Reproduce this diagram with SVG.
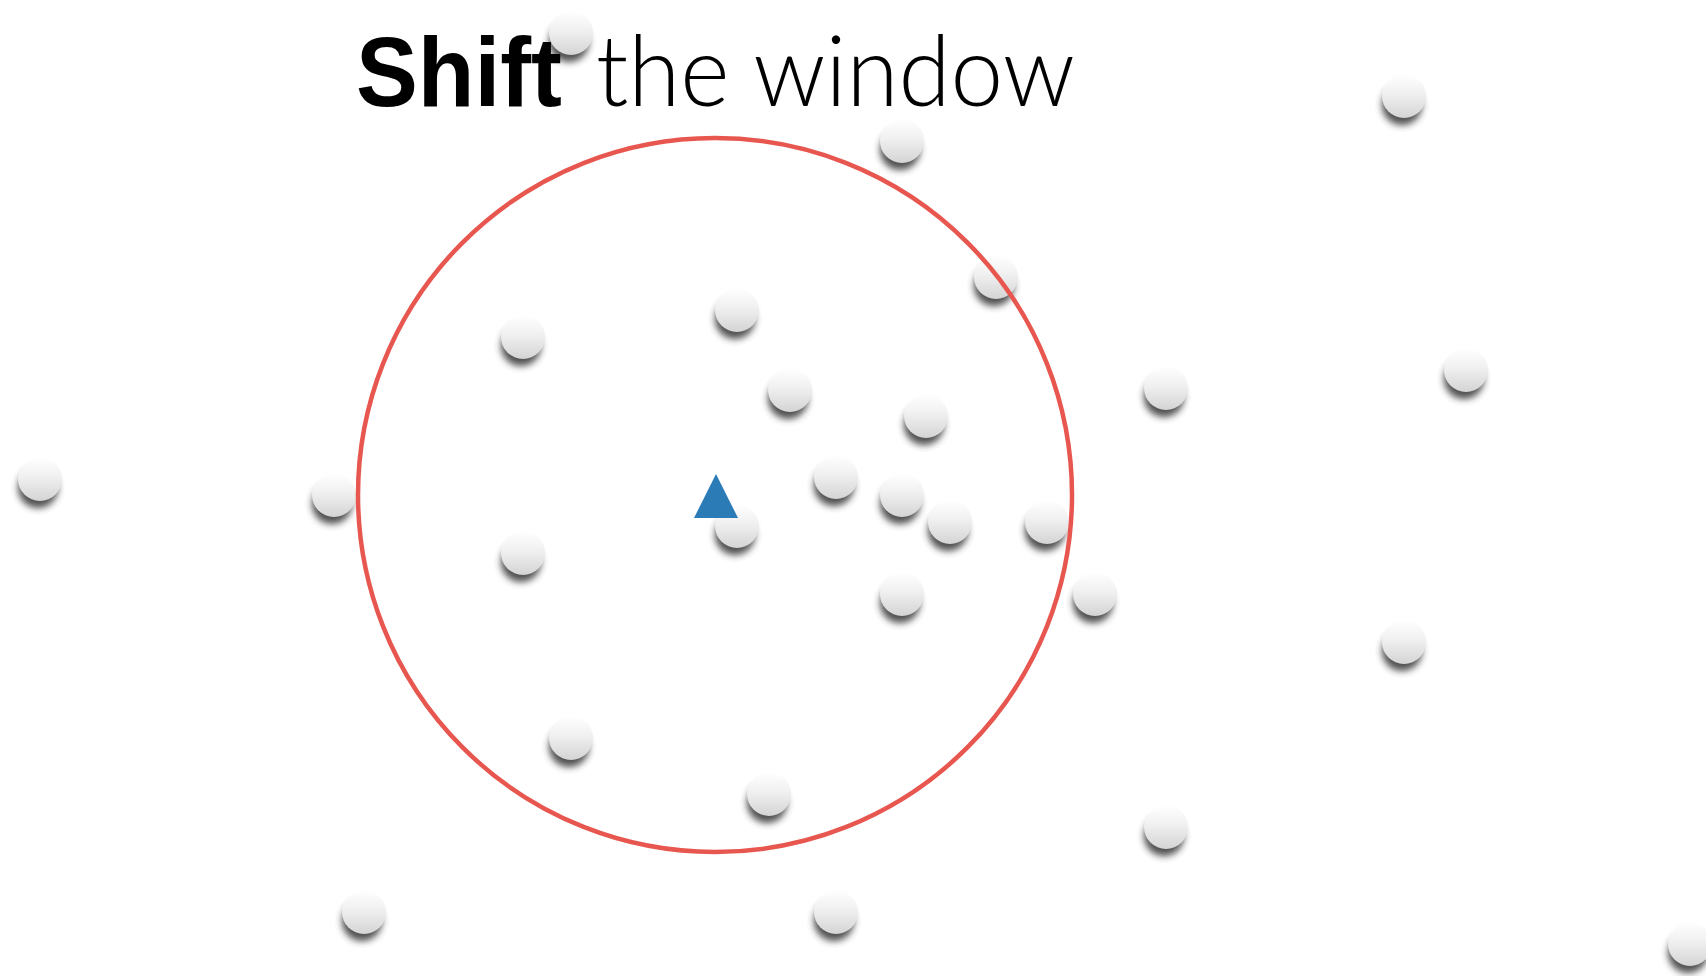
<svg xmlns="http://www.w3.org/2000/svg" xmlns:xlink="http://www.w3.org/1999/xlink" width="1706" height="976" viewBox="0 0 1706 976">
<style>
.title{font-family:"Liberation Sans","Helvetica Neue",Arial,sans-serif;font-size:98px;fill:#000}
.bold{font-weight:bold}
.light{font-family:"Lato","Liberation Sans",sans-serif;font-weight:300}
.window{fill:none;stroke:#e8574f;stroke-width:4.5}
</style>
<defs>
<linearGradient id="ballGrad" x1="0" y1="0" x2="0" y2="1">
<stop offset="0" stop-color="#ffffff"/>
<stop offset="0.45" stop-color="#f0f0f0"/>
<stop offset="1" stop-color="#d4d4d4"/>
</linearGradient>
<filter id="blur" x="-50%" y="-50%" width="200%" height="200%">
<feGaussianBlur stdDeviation="3.5"/>
</filter>
<g id="ball">
<circle cx="-2" cy="9" r="20" fill="#333" opacity="0.85" filter="url(#blur)"/>
<circle cx="0" cy="0" r="22" fill="url(#ballGrad)"/>
</g>
</defs>
<rect width="1706" height="976" fill="#ffffff"/>
<g id="points">
<use xlink:href="#ball" x="571" y="33"/>
<use xlink:href="#ball" x="1404" y="96"/>
<use xlink:href="#ball" x="902" y="141"/>
<use xlink:href="#ball" x="996" y="277"/>
<use xlink:href="#ball" x="737" y="310"/>
<use xlink:href="#ball" x="523" y="337"/>
<use xlink:href="#ball" x="790" y="390"/>
<use xlink:href="#ball" x="1166" y="388"/>
<use xlink:href="#ball" x="1466" y="370"/>
<use xlink:href="#ball" x="926" y="416"/>
<use xlink:href="#ball" x="40" y="479"/>
<use xlink:href="#ball" x="334" y="495"/>
<use xlink:href="#ball" x="836" y="477"/>
<use xlink:href="#ball" x="902" y="495"/>
<use xlink:href="#ball" x="950" y="522"/>
<use xlink:href="#ball" x="1047" y="522"/>
<use xlink:href="#ball" x="737" y="526"/>
<use xlink:href="#ball" x="523" y="553"/>
<use xlink:href="#ball" x="902" y="594"/>
<use xlink:href="#ball" x="1095" y="594"/>
<use xlink:href="#ball" x="1404" y="642"/>
<use xlink:href="#ball" x="571" y="738"/>
<use xlink:href="#ball" x="769" y="794"/>
<use xlink:href="#ball" x="1166" y="827"/>
<use xlink:href="#ball" x="364" y="912"/>
<use xlink:href="#ball" x="836" y="912"/>
<use xlink:href="#ball" x="1690" y="944"/>
</g>
<g id="window">
<circle class="window" cx="715" cy="495" r="357"/>
</g>
<g id="mean">
<polygon points="716,474 694,518 738,518" fill="#2b7bb6"/>
</g>
<g id="title">
<text class="title" y="106"><tspan class="bold" x="356" textLength="206" lengthAdjust="spacingAndGlyphs">Shift</tspan><tspan class="light" x="596" textLength="479" lengthAdjust="spacingAndGlyphs">the window</tspan></text>
</g>
</svg>
